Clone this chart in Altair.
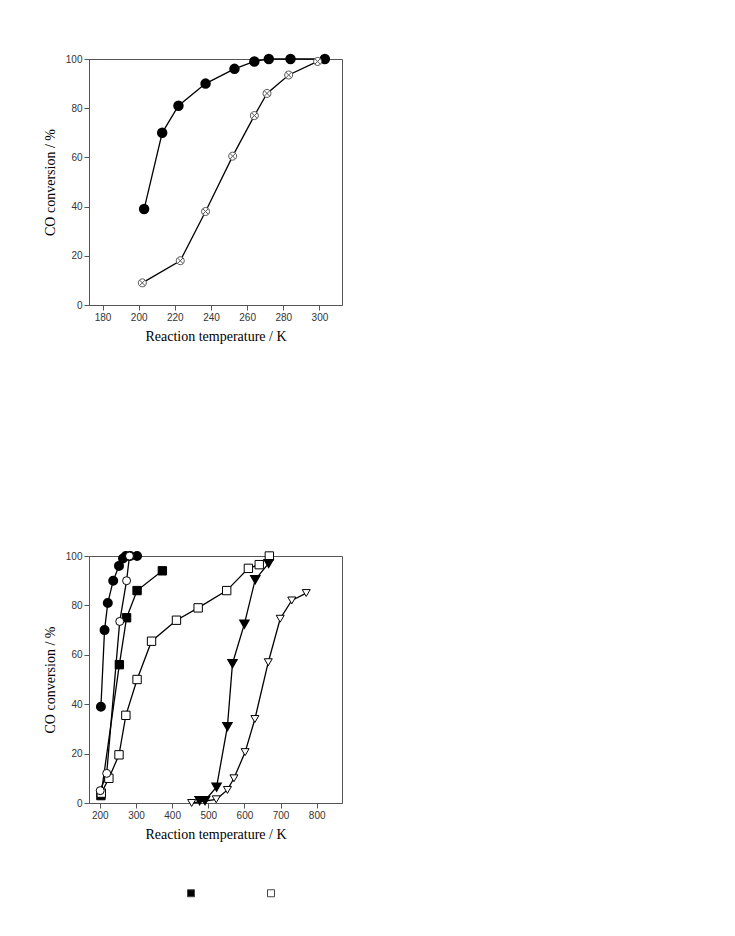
import altair as alt
import pandas as pd

# ---------------- Top panel data ----------------
top_filled_t = [203, 213, 222, 237, 253, 264, 272, 284, 303]
top_filled_v = [39, 70, 81, 90, 96, 99, 100, 100, 100]
top_cross_t = [202, 223, 237, 252, 264, 271, 283, 299]
top_cross_v = [9, 18, 38, 60.5, 77, 86, 93.5, 99]
top_xticks = [180, 200, 220, 240, 260, 280, 300]

# ---------------- Bottom panel data ----------------
b_fcirc_t = [203, 213, 222, 237, 253, 264, 272, 284, 303]
b_fcirc_v = [39, 70, 81, 90, 96, 99, 100, 100, 100]
b_ocirc_t = [201, 219, 255, 274, 282]
b_ocirc_v = [5, 12, 73.5, 90, 100]
b_fsq_t = [203, 254, 274, 303, 373]
b_fsq_v = [3, 56, 75, 86, 94]
b_osq_t = [204, 225, 253, 272, 303, 343, 412, 472, 551, 611, 641, 669]
b_osq_v = [4, 10, 19.5, 35.5, 50, 65.5, 74, 79, 86, 95, 96.5, 100]
b_ftri_t = [476, 491, 523, 553, 567, 600, 630, 667]
b_ftri_v = [1, 1, 6.5, 31, 56.5, 72.5, 90.5, 97]
b_otri_t = [454, 522, 553, 571, 602, 629, 666, 699, 731, 771]
b_otri_v = [0, 1.5, 5.3, 10, 20.6, 34, 57, 74.6, 82, 85]
bot_xticks = [200, 300, 400, 500, 600, 700, 800]
y_ticks = [0, 20, 40, 60, 80, 100]


def frame(name, t, v):
    return pd.DataFrame({"series": name, "T": t, "V": v})


top_df = pd.concat([
    frame("filled_circle", top_filled_t, top_filled_v),
    frame("crossed_circle", top_cross_t, top_cross_v),
])

bot_df = pd.concat([
    frame("filled_circle", b_fcirc_t, b_fcirc_v),
    frame("open_circle", b_ocirc_t, b_ocirc_v),
    frame("filled_square", b_fsq_t, b_fsq_v),
    frame("open_square", b_osq_t, b_osq_v),
    frame("filled_triangle", b_ftri_t, b_ftri_v),
    frame("open_triangle", b_otri_t, b_otri_v),
])

y_enc = alt.Y("V:Q", scale=alt.Scale(domain=[0, 100], nice=False, zero=False),
              axis=alt.Axis(values=y_ticks, title="CO conversion / %"))

crossed = ("M-1,0A1,1 0 1,1 1,0A1,1 0 1,1 -1,0Z"
           "M-0.7,-0.7L0.7,0.7M-0.7,0.7L0.7,-0.7")

# ---------------- Top chart ----------------
x_top = alt.X("T:Q", scale=alt.Scale(domain=[172.5, 312.5], nice=False, zero=False),
              axis=alt.Axis(values=top_xticks, title="Reaction temperature / K"))

tbase = alt.Chart(top_df)
top_lines = tbase.mark_line(color="black", strokeWidth=1.3).encode(
    x=x_top, y=y_enc, detail="series:N")
top_fill = tbase.transform_filter(alt.datum.series == "filled_circle").mark_point(
    shape="circle", filled=True, fill="black", stroke="black", size=72, opacity=1
).encode(x=x_top, y=y_enc)
top_cross = tbase.transform_filter(alt.datum.series == "crossed_circle").mark_point(
    shape=crossed, filled=True, fill="white", stroke="#555", strokeWidth=1,
    size=64, opacity=1
).encode(x=x_top, y=y_enc)

top = alt.layer(top_lines, top_fill, top_cross).properties(width=253, height=246)

# ---------------- Bottom chart ----------------
x_bot = alt.X("T:Q", scale=alt.Scale(domain=[170, 870], nice=False, zero=False),
              axis=alt.Axis(values=bot_xticks, title="Reaction temperature / K"))

bbase = alt.Chart(bot_df)
b_lines = bbase.mark_line(color="black", strokeWidth=1.3).encode(
    x=x_bot, y=y_enc, detail="series:N")
b_fc = bbase.transform_filter(alt.datum.series == "filled_circle").mark_point(
    shape="circle", filled=True, fill="black", stroke="black", size=64, opacity=1
).encode(x=x_bot, y=y_enc)
b_oc = bbase.transform_filter(alt.datum.series == "open_circle").mark_point(
    shape="circle", filled=True, fill="white", stroke="black", strokeWidth=1,
    size=64, opacity=1
).encode(x=x_bot, y=y_enc)
b_sq = bbase.transform_filter(
    (alt.datum.series == "filled_square") | (alt.datum.series == "open_square")
).mark_point(shape="square", filled=True, stroke="black", strokeWidth=1,
             size=70, opacity=1).encode(
    x=x_bot, y=y_enc,
    fill=alt.Fill("series:N",
                  scale=alt.Scale(domain=["filled_square", "open_square"],
                                  range=["black", "white"]),
                  legend=alt.Legend(orient="none", legendX=97, legendY=829,
                                    direction="horizontal", title=None,
                                    labelExpr="''", symbolType="square",
                                    symbolSize=49, symbolStrokeColor="#444",
                                    symbolStrokeWidth=1, labelOffset=0,
                                    columnPadding=68, padding=0)))
b_ft = bbase.transform_filter(alt.datum.series == "filled_triangle").mark_point(
    shape="triangle-down", filled=True, fill="black", stroke="black", size=64,
    opacity=1).encode(x=x_bot, y=y_enc)
b_ot = bbase.transform_filter(alt.datum.series == "open_triangle").mark_point(
    shape="triangle-down", filled=True, fill="white", stroke="black",
    strokeWidth=1, size=64, opacity=1).encode(x=x_bot, y=y_enc)

bottom = alt.layer(b_lines, b_sq, b_fc, b_oc, b_ft, b_ot).properties(
    width=253, height=247)

chart = alt.vconcat(top, bottom, spacing=203).properties(
    padding={"left": 34, "top": 42, "right": 5, "bottom": 5}
).configure_view(stroke="#555", strokeWidth=1).configure_axis(
    grid=False, domainColor="#555", tickColor="#555", tickSize=5,
    labelFont="Liberation Sans", labelFontSize=10, labelColor="#333",
    labelPadding=2, titleFont="Liberation Serif", titleFontSize=14,
    titleFontWeight="normal", titleColor="black", titlePadding=7
).configure_axisY(titlePadding=8)

chart.save("out.html", embed_options={"renderer": "svg", "actions": False})
